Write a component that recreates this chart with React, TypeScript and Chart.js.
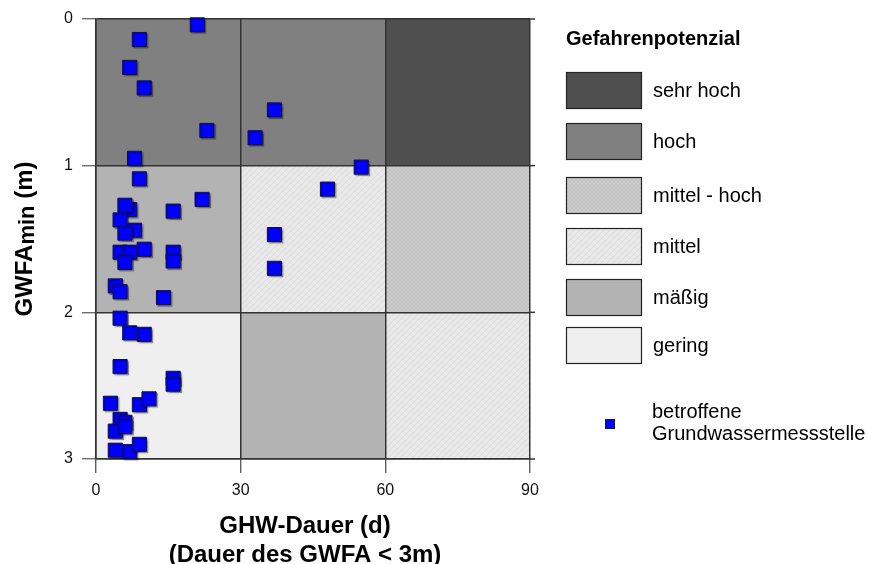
import React, { useEffect, useRef } from 'react';
import { Chart, registerables } from 'chart.js';

Chart.register(...registerables);

// ---- data ----
const xBreaks = [0, 30, 60, 90];
const yBreaks = [0, 1, 2, 3];
const legendClasses = ['sehr hoch', 'hoch', 'mittel - hoch', 'mittel', 'mäßig', 'gering'];
// hazard class of each cell: rows = GWFAmin bands (0-1, 1-2, 2-3), cols = duration bands
const cellRow0 = ['hoch', 'hoch', 'sehr hoch'];
const cellRow1 = ['mäßig', 'mittel', 'mittel - hoch'];
const cellRow2 = ['gering', 'mäßig', 'mittel'];
const durationDays = [21, 9, 7, 10, 37, 23, 33, 8, 55, 9, 48, 22, 7, 6, 16, 5, 8, 6, 37, 5, 7, 10, 6, 16, 16, 37, 4, 5, 14, 5, 7, 10, 5, 16, 16, 3, 9, 11, 5, 6, 4, 6, 4, 7, 9];
const gwfaMin = [0.04, 0.14, 0.33, 0.47, 0.62, 0.76, 0.81, 0.95, 1.01, 1.09, 1.16, 1.23, 1.30, 1.27, 1.31, 1.37, 1.44, 1.46, 1.47, 1.59, 1.59, 1.57, 1.66, 1.59, 1.65, 1.70, 1.82, 1.86, 1.90, 2.04, 2.14, 2.15, 2.37, 2.45, 2.49, 2.62, 2.63, 2.59, 2.73, 2.75, 2.81, 2.78, 2.94, 2.95, 2.90];
const xTitleLines = ['GHW-Dauer (d)', '(Dauer des GWFA < 3m)'];
const legendTitle = 'Gefahrenpotenzial';
const markerLabelLines = ['betroffene', 'Grundwassermessstelle'];

const FONT = '"Liberation Sans", Arial, Helvetica, sans-serif';

function makePattern(base: string, line: string, kind: 'diag' | 'cross'): CanvasPattern | string {
  const c = document.createElement('canvas');
  const s = kind === 'diag' ? 6 : 4;
  c.width = s;
  c.height = s;
  const g = c.getContext('2d');
  if (!g) return base;
  g.fillStyle = base;
  g.fillRect(0, 0, s, s);
  g.strokeStyle = line;
  g.lineWidth = 1;
  g.beginPath();
  g.moveTo(0, s);
  g.lineTo(s, 0);
  if (kind === 'cross') {
    g.moveTo(0, 0);
    g.lineTo(s, s);
  }
  g.stroke();
  const p = g.createPattern(c, 'repeat');
  return p || base;
}

export default function App() {
  const ref = useRef<HTMLCanvasElement>(null);

  useEffect(() => {
    if (!ref.current) return;
    const fills: Record<string, any> = {
      'sehr hoch': '#4f4f4f',
      'hoch': '#808080',
      'mittel - hoch': makePattern('#cdcdcd', '#c2c2c2', 'cross'),
      'mittel': makePattern('#e8e8e8', '#dcdcdc', 'diag'),
      'mäßig': '#b3b3b3',
      'gering': '#efefef',
    };
    const cellRows = [cellRow0, cellRow1, cellRow2];

    const cellPlugin = {
      id: 'cells',
      beforeDraw(chart: any) {
        const { ctx, scales } = chart;
        const xs = scales.x;
        const ys = scales.y;
        ctx.save();
        ctx.fillStyle = '#ffffff';
        ctx.fillRect(0, 0, chart.width, chart.height);
        for (let r = 0; r < cellRows.length; r++) {
          for (let c = 0; c < cellRows[r].length; c++) {
            const x0 = xs.getPixelForValue(xBreaks[c]);
            const x1 = xs.getPixelForValue(xBreaks[c + 1]);
            const y0 = ys.getPixelForValue(yBreaks[r]);
            const y1 = ys.getPixelForValue(yBreaks[r + 1]);
            ctx.fillStyle = fills[cellRows[r][c]];
            ctx.fillRect(x0, y0, x1 - x0, y1 - y0);
          }
        }
        // small extension of horizontal lines to the right
        ctx.strokeStyle = '#333';
        ctx.lineWidth = 1.5;
        const right = xs.getPixelForValue(xBreaks[xBreaks.length - 1]);
        for (const v of yBreaks) {
          const yy = ys.getPixelForValue(v);
          ctx.beginPath();
          ctx.moveTo(right, yy);
          ctx.lineTo(right + 5, yy);
          ctx.stroke();
        }
        ctx.restore();
      },
      beforeDatasetsDraw(chart: any) {
        const ctx = chart.ctx;
        ctx.save();
        ctx.shadowColor = 'rgba(0,0,0,0.3)';
        ctx.shadowOffsetX = 1.5;
        ctx.shadowOffsetY = 1.5;
        ctx.shadowBlur = 1;
      },
      afterDatasetsDraw(chart: any) {
        chart.ctx.restore();
      },
      afterDraw(chart: any) {
        const { ctx } = chart;
        ctx.save();
        ctx.fillStyle = '#000';
        // x axis title
        ctx.font = `bold 24px ${FONT}`;
        ctx.textAlign = 'center';
        ctx.textBaseline = 'middle';
        ctx.fillText(xTitleLines[0], 305, 526);
        ctx.fillText(xTitleLines[1], 305, 555);
        // y axis title with subscript
        ctx.save();
        ctx.translate(25, 239);
        ctx.rotate(-Math.PI / 2);
        ctx.textAlign = 'left';
        ctx.textBaseline = 'middle';
        const p1 = 'GWFA';
        const p2 = 'min';
        const p3 = ' (m)';
        ctx.font = `bold 24px ${FONT}`;
        const w1 = ctx.measureText(p1).width;
        const w3 = ctx.measureText(p3).width;
        ctx.font = `bold 22px ${FONT}`;
        const w2 = ctx.measureText(p2).width;
        const total = w1 + w2 + w3;
        let cx = -total / 2;
        ctx.font = `bold 24px ${FONT}`;
        ctx.fillText(p1, cx, 0);
        cx += w1;
        ctx.font = `bold 22px ${FONT}`;
        ctx.fillText(p2, cx, 3);
        cx += w2;
        ctx.font = `bold 24px ${FONT}`;
        ctx.fillText(p3, cx, 0);
        ctx.restore();

        // legend
        ctx.textAlign = 'left';
        ctx.textBaseline = 'middle';
        ctx.font = `bold 20px ${FONT}`;
        ctx.fillText(legendTitle, 566, 39);
        const tops = [72, 123, 177, 228, 279, 327];
        ctx.font = `20px ${FONT}`;
        legendClasses.forEach((name, i) => {
          const t = tops[i];
          ctx.fillStyle = fills[name];
          ctx.fillRect(566, t, 75, 36);
          ctx.strokeStyle = '#222';
          ctx.lineWidth = 1.2;
          ctx.strokeRect(566.5, t + 0.5, 75, 36);
          ctx.fillStyle = '#000';
          ctx.fillText(name, 653, t + 19);
        });
        // marker legend
        ctx.fillStyle = '#0000ff';
        ctx.fillRect(605.5, 419, 9, 9);
        ctx.strokeStyle = '#10103a';
        ctx.lineWidth = 1;
        ctx.strokeRect(605.5, 419.5, 9, 9);
        ctx.fillStyle = '#000';
        ctx.fillText(markerLabelLines[0], 652, 412);
        ctx.fillText(markerLabelLines[1], 652, 434);
        ctx.restore();
      },
    };

    const chart = new Chart(ref.current, {
      type: 'scatter',
      data: {
        datasets: [
          {
            data: durationDays.map((d, i) => ({ x: d, y: gwfaMin[i] })),
            pointStyle: 'rect',
            pointRadius: 10,
            pointHoverRadius: 10,
            backgroundColor: '#0000ff',
            borderColor: '#10103a',
            borderWidth: 1,
            clip: false as any,
          },
        ],
      },
      options: {
        responsive: false,
        devicePixelRatio: 1,
        animation: false,
        events: [],
        layout: { padding: { left: 0, top: 19, right: 339, bottom: 0 } },
        plugins: { legend: { display: false }, tooltip: { enabled: false } },
        scales: {
          x: {
            type: 'linear',
            min: xBreaks[0],
            max: xBreaks[xBreaks.length - 1],
            afterBuildTicks: (s: any) => {
              s.ticks = xBreaks.map((v) => ({ value: v }));
            },
            afterFit: (s: any) => {
              s.height = 105;
            },
            ticks: {
              font: { family: FONT, size: 16 },
              color: '#111',
              padding: 8,
              maxRotation: 0,
            },
            grid: { color: '#333', lineWidth: 1.5, tickLength: 14, tickColor: '#444', tickWidth: 1.2 },
            border: { color: '#333', width: 1.5 },
          },
          y: {
            type: 'linear',
            reverse: true,
            min: yBreaks[0],
            max: yBreaks[yBreaks.length - 1],
            afterBuildTicks: (s: any) => {
              s.ticks = yBreaks.map((v) => ({ value: v }));
            },
            afterFit: (s: any) => {
              s.width = 96;
            },
            ticks: {
              font: { family: FONT, size: 16 },
              color: '#111',
              padding: 9,
            },
            grid: { color: '#333', lineWidth: 1.5, tickLength: 14, tickColor: '#555', tickWidth: 1.2 },
            border: { color: '#333', width: 1.5 },
          },
        },
      },
      plugins: [cellPlugin],
    } as any);

    return () => chart.destroy();
  }, []);

  return (
    <div style={{ position: 'absolute', left: 0, top: 0, width: 869, height: 564 }}>
      <canvas ref={ref} width={869} height={564} style={{ display: 'block' }} />
    </div>
  );
}
